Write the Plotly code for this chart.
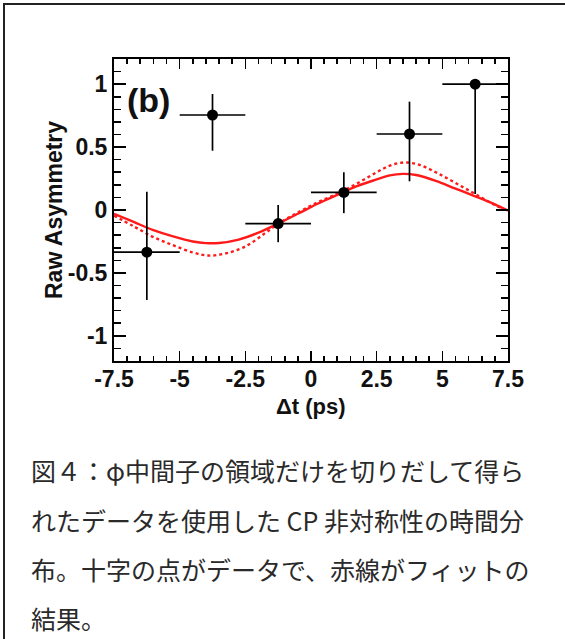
import plotly.graph_objects as go

# ---------------- data ----------------
dt_centers = [-6.25, -3.75, -1.25, 1.25, 3.75, 6.25]
asym = [-0.335, 0.755, -0.108, 0.14, 0.604, 1.0]
err_plus = [0.48, 0.167, 0.148, 0.16, 0.257, 0.0]
err_minus = [0.38, 0.284, 0.148, 0.165, 0.376, 0.873]
dt_halfwidth = [1.25, 1.25, 1.25, 1.25, 1.25, 1.25]

fit_solid_x = [-7.5, -6.75, -6.0, -5.25, -4.5, -4.0, -3.5, -2.75, -2.0, -1.25, -0.5, 0.25,
               1.0, 1.75, 2.5, 3.0, 3.5, 4.0, 4.75, 5.5, 6.25, 7.0, 7.5]
fit_solid_y = [-0.03, -0.095, -0.16, -0.21, -0.25, -0.263, -0.262, -0.235, -0.18, -0.108, -0.03, 0.05,
               0.12, 0.19, 0.243, 0.275, 0.287, 0.278, 0.232, 0.17, 0.109, 0.045, -0.005]

fit_dot_x = [-7.5, -6.75, -6.0, -5.25, -4.5, -3.9, -3.25, -2.5, -1.75, -1.25, -0.5, 0.25,
             1.0, 1.75, 2.5, 3.0, 3.55, 4.1, 4.75, 5.5, 6.25, 7.0, 7.5]
fit_dot_y = [-0.045, -0.13, -0.215, -0.28, -0.337, -0.362, -0.345, -0.29, -0.185, -0.11, -0.02, 0.06,
             0.13, 0.21, 0.30, 0.352, 0.378, 0.36, 0.30, 0.215, 0.127, 0.04, -0.005]

x_tickvals = [-7.5, -5, -2.5, 0, 2.5, 5, 7.5]
x_ticktext = ["-7.5", "-5", "-2.5", "0", "2.5", "5", "7.5"]
y_tickvals = [-1, -0.5, 0, 0.5, 1]
y_ticktext = ["-1", "-0.5", "0", "0.5", "1"]

x_title = "Δt (ps)"
y_title = "Raw Asymmetry"
panel_label = "(b)"
caption_lines = [
    "図４：φ中間子の領域だけを切りだして得ら",
    "れたデータを使用した CP 非対称性の時間分",
    "布。十字の点がデータで、赤線がフィットの",
    "結果。",
]

# ---------------- layout geometry (pixels) ----------------
W, H = 565, 639
L, R, T, B = 114, 508, 59, 361


def px_x(px):
    return (px - L) / (R - L)


def px_y(py):
    return (B - py) / (B - T)


SANS = "Liberation Sans, Arial, Helvetica, sans-serif"
AX_FONT = dict(family=SANS, size=23, color="#111111", weight="bold")
RED = "#ff1a1a"

fig = go.Figure()

fig.add_trace(go.Scatter(
    x=fit_dot_x, y=fit_dot_y, mode="lines",
    line=dict(color=RED, width=2.4, dash="dot", shape="spline", smoothing=1.0),
    hoverinfo="skip", showlegend=False,
))
fig.add_trace(go.Scatter(
    x=fit_solid_x, y=fit_solid_y, mode="lines",
    line=dict(color=RED, width=2.4, shape="spline", smoothing=1.0),
    hoverinfo="skip", showlegend=False,
))
fig.add_trace(go.Scatter(
    x=dt_centers, y=asym, mode="markers",
    marker=dict(color="black", size=11),
    error_y=dict(type="data", symmetric=False, array=err_plus, arrayminus=err_minus,
                 color="black", thickness=1.7, width=0),
    error_x=dict(type="data", array=dt_halfwidth, color="black", thickness=1.7, width=0),
    showlegend=False,
))

fig.update_xaxes(
    range=[-7.5, 7.5], tickmode="array", tickvals=x_tickvals, ticktext=x_ticktext,
    ticks="inside", ticklen=10, tickwidth=1.6, tickcolor="black",
    showline=True, linewidth=2, linecolor="black", mirror="allticks",
    showgrid=False, zeroline=False, tickfont=AX_FONT, ticklabelstandoff=-4,
    minor=dict(dtick=0.5, tick0=-7.5, ticks="inside", ticklen=5, tickwidth=1.6, tickcolor="black", showgrid=False),
)
fig.update_yaxes(
    range=[-1.2, 1.2], tickmode="array", tickvals=y_tickvals, ticktext=y_ticktext,
    ticks="inside", ticklen=12, tickwidth=1.6, tickcolor="black",
    showline=True, linewidth=2, linecolor="black", mirror="allticks",
    showgrid=False, zeroline=False, tickfont=AX_FONT, ticklabelstandoff=0,
    minor=dict(dtick=0.1, tick0=0, ticks="inside", ticklen=7, tickwidth=1.6, tickcolor="black", showgrid=False),
)

annotations = [
    dict(x=px_x(148), y=px_y(100), xref="paper", yref="paper", text=panel_label, showarrow=False,
         font=dict(family=SANS, size=34, color="#111111", weight="bold"),
         xanchor="center", yanchor="middle"),
    dict(x=px_x(311), y=px_y(406), xref="paper", yref="paper", text=x_title, showarrow=False,
         font=dict(family=SANS, size=22, color="#111111", weight="bold"),
         xanchor="center", yanchor="middle"),
    dict(x=px_x(54), y=px_y(210), xref="paper", yref="paper", text=y_title, showarrow=False,
         textangle=-90,
         font=dict(family=SANS, size=23, color="#111111", weight="bold"),
         xanchor="center", yanchor="middle"),
]
line_centers = [470, 519.5, 569, 618]
for txt, cy in zip(caption_lines, line_centers):
    annotations.append(dict(
        x=px_x(29), y=px_y(cy), xref="paper", yref="paper", text=txt, showarrow=False,
        xanchor="left", yanchor="middle", align="left",
        font=dict(family="Noto Sans CJK JP", size=25, color="#2a2a2a"),
    ))

shapes = [
    dict(type="line", xref="paper", yref="paper", x0=px_x(4), x1=px_x(4), y0=px_y(3), y1=px_y(645),
         line=dict(color="#222222", width=2)),
    dict(type="line", xref="paper", yref="paper", x0=px_x(3), x1=px_x(570), y0=px_y(4), y1=px_y(4),
         line=dict(color="#222222", width=2)),
]

fig.update_layout(
    width=W, height=H, autosize=False,
    margin=dict(l=L, r=W - R, t=T, b=H - B, pad=0),
    paper_bgcolor="white", plot_bgcolor="white",
    annotations=annotations, shapes=shapes, showlegend=False,
)

fig.write_html(
    "out.html",
    config={"displayModeBar": False, "staticPlot": True},
    post_script="document.body.style.margin='0';document.body.style.overflow='hidden';",
)
